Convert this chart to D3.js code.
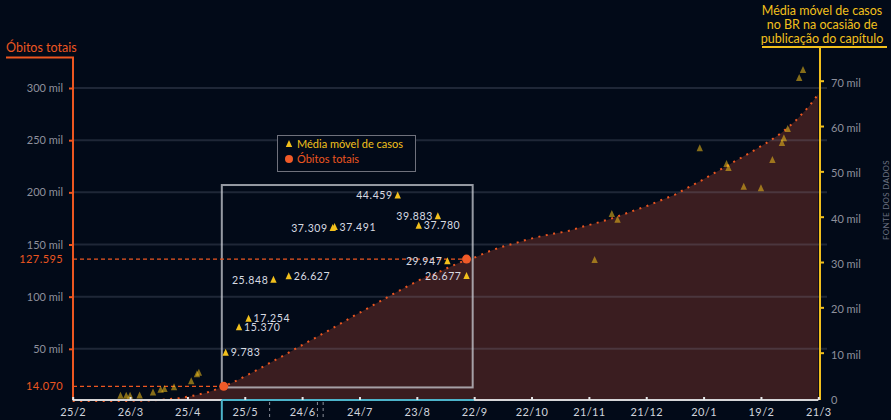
<!DOCTYPE html>
<html>
<head>
<meta charset="utf-8">
<script src="https://cdn.jsdelivr.net/npm/d3@7"></script>
<style>
  body { margin: 0; background: #020a18; }
  svg { display: block; font-family: Lato, "Open Sans", sans-serif; }
</style>
</head>
<body>
<svg id="chart" width="891" height="420"></svg>
<script>
// óbitos totais acumulados no Brasil (lidos da área)
var obitosDatas = ["2020-02-25","2020-03-17","2020-03-24","2020-03-31","2020-04-07","2020-04-14","2020-04-21","2020-04-28",
  "2020-05-05","2020-05-12","2020-05-19","2020-05-26","2020-06-02","2020-06-09","2020-06-16","2020-06-23","2020-06-30",
  "2020-07-07","2020-07-14","2020-07-21","2020-07-28","2020-08-04","2020-08-11","2020-08-18","2020-08-25","2020-09-01",
  "2020-09-08","2020-09-15","2020-09-22","2020-09-29","2020-10-06","2020-10-13","2020-10-20","2020-10-27","2020-11-03",
  "2020-11-10","2020-11-17","2020-11-24","2020-12-01","2020-12-08","2020-12-15","2020-12-22","2020-12-29","2021-01-05",
  "2021-01-12","2021-01-19","2021-01-26","2021-02-02","2021-02-09","2021-02-16","2021-02-23","2021-03-02","2021-03-09",
  "2021-03-16","2021-03-21"];
var obitosValores = [0,1,46,201,667,1532,2741,5083,
  7921,12400,17971,24512,31199,38406,45241,52645,59594,
  66741,74133,81487,88539,95819,103026,109888,116580,121381,
  127464,133119,137272,142921,147494,151063,154837,157946,160496,
  162802,166699,170115,173817,178159,182799,187322,192681,197732,
  204690,211491,218878,226309,233520,240940,248529,257361,268370,
  282127,294042];

// média móvel de casos na publicação de cada capítulo
var casosDatas = ["2020-03-21","2020-03-24","2020-03-26","2020-03-31","2020-04-07","2020-04-11","2020-04-13","2020-04-18",
  "2020-04-27","2020-04-30","2020-05-01",
  "2020-05-15","2020-05-22","2020-05-27","2020-06-09","2020-06-17","2020-07-10","2020-07-11","2020-08-13","2020-08-24",
  "2020-09-03","2020-09-08","2020-09-18",
  "2020-11-24","2020-12-03","2020-12-06","2021-01-18","2021-02-01","2021-02-02","2021-02-10","2021-02-19","2021-02-25",
  "2021-03-02","2021-03-03","2021-03-05","2021-03-11","2021-03-13"];
var casosValores = [300,300,300,350,1000,1600,1750,2150,
  3450,5000,5350,
  9783,15370,17254,25848,26627,37309,37491,44459,37780,
  39883,29947,26677,
  30200,40370,39110,54860,51400,50520,46400,46040,52280,
  56030,57070,59120,70370,72140];
var rotulosEsquerda = ["25.848","37.309","44.459","39.883","29.947","26.677"];

// marcos de óbitos
var marcoDatas = ["2020-05-14","2020-09-18"];
var marcoValores = [14070, 136000];
var marcoRotulos = ["14.070","127.595"];

// período em destaque e marcas verticais
var destaqueDatas = ["2020-05-13","2020-09-22"];
var destaqueObitos = [13000, 207000];
var marcasVerticais = ["2020-06-07","2020-07-02","2020-07-05"];

var xTickDatas = ["2020-02-25","2020-03-26","2020-04-25","2020-05-25","2020-06-24","2020-07-24","2020-08-23",
  "2020-09-22","2020-10-22","2020-11-21","2020-12-21","2021-01-20","2021-02-19","2021-03-21"];
var xTickRotulos = ["25/2","26/3","25/4","25/5","24/6","24/7","23/8","22/9","22/10","21/11","21/12","20/1","19/2","21/3"];
var yTicksObitos = [50000,100000,150000,200000,250000,300000];
var yTicksCasos = [0,10000,20000,30000,40000,50000,60000,70000];

var laranja = "#ec5620", amarelo = "#f2c01c", fundo = "#020a18";
var parse = d3.timeParse("%Y-%m-%d");
var svg = d3.select("#chart");

var x = d3.scaleTime().domain([parse("2020-02-25"), parse("2021-03-21")]).range([72.7, 818.3]);
var yObitos = d3.scaleLinear().domain([0, 300000]).range([401, 88]);
var yCasos = d3.scaleLinear().domain([0, 70000]).range([398, 80.7]);

var obitos = obitosDatas.map(function(d, i) { return { data: parse(d), valor: obitosValores[i] }; });
var casos = casosDatas.map(function(d, i) {
  return { data: parse(d), valor: casosValores[i], rotulo: d3.format(",")(casosValores[i]).replace(/,/g, ".") };
});
var ini = parse(destaqueDatas[0]), fim = parse(destaqueDatas[1]);
casos.forEach(function(d) { d.destaque = d.data >= ini && d.data <= fim; });

// area
svg.append("path").datum(obitos)
  .attr("fill", "#3a1d20")
  .attr("d", d3.area().x(function(d) { return x(d.data); }).y0(yObitos(0)).y1(function(d) { return yObitos(d.valor); }));

// grade
svg.append("g").selectAll("line").data(yTicksObitos).enter().append("line")
  .attr("x1", 73).attr("x2", 827)
  .attr("y1", function(d) { return yObitos(d); }).attr("y2", function(d) { return yObitos(d); })
  .attr("stroke", "#8890a8").attr("stroke-opacity", 0.22).attr("stroke-width", 2);

// linha pontilhada
svg.append("path").datum(obitos)
  .attr("fill", "none").attr("stroke", laranja).attr("stroke-width", 2).attr("stroke-dasharray", "2,5.5")
  .attr("d", d3.line().x(function(d) { return x(d.data); }).y(function(d) { return yObitos(d.valor); }));

// caixa de destaque
svg.append("rect")
  .attr("x", x(ini)).attr("y", yObitos(destaqueObitos[1]))
  .attr("width", x(fim) - x(ini) - 1.5).attr("height", yObitos(destaqueObitos[0]) - yObitos(destaqueObitos[1]))
  .attr("fill", "none").attr("stroke", "#d0d2da").attr("stroke-opacity", 0.72).attr("stroke-width", 2);

// marcos
var marcos = marcoDatas.map(function(d, i) { return { data: parse(d), valor: marcoValores[i], rotulo: marcoRotulos[i] }; });
svg.append("g").selectAll("line").data(marcos).enter().append("line")
  .attr("x1", 73).attr("x2", function(d) { return x(d.data); })
  .attr("y1", function(d) { return yObitos(d.valor); }).attr("y2", function(d) { return yObitos(d.valor); })
  .attr("stroke", laranja).attr("stroke-width", 1.2).attr("stroke-dasharray", "4,3");
svg.append("g").selectAll("text").data(marcos).enter().append("text")
  .attr("x", 63).attr("y", function(d) { return yObitos(d.valor); }).attr("dy", "0.35em")
  .attr("text-anchor", "end").attr("fill", laranja).attr("font-size", 11).attr("letter-spacing", 0.4)
  .text(function(d) { return d.rotulo; });

// triangulos (desenhados um pouco acima do valor, como no original)
var tri = "M0,-4L3.2,3L-3.2,3Z";
svg.append("g").selectAll("path").data(casos).enter().append("path")
  .attr("d", tri)
  .attr("transform", function(d) { return "translate(" + x(d.data) + "," + (yCasos(d.valor) - 1) + ")"; })
  .attr("fill", amarelo).attr("fill-opacity", function(d) { return d.destaque ? 1 : 0.55; });
svg.append("g").selectAll("text").data(casos.filter(function(d) { return d.destaque; })).enter().append("text")
  .attr("x", function(d) { return x(d.data) + (rotulosEsquerda.indexOf(d.rotulo) >= 0 ? -5 : 5); })
  .attr("y", function(d) { return yCasos(d.valor) - 1; }).attr("dy", "0.35em")
  .attr("text-anchor", function(d) { return rotulosEsquerda.indexOf(d.rotulo) >= 0 ? "end" : "start"; })
  .attr("fill", "#d8dbe2").attr("font-size", 10.5).attr("letter-spacing", 0.6)
  .text(function(d) { return d.rotulo; });

svg.append("g").selectAll("circle").data(marcos).enter().append("circle")
  .attr("cx", function(d) { return x(d.data); }).attr("cy", function(d) { return yObitos(d.valor); })
  .attr("r", 4.5).attr("fill", "#f05a28");

// eixo esquerdo
var eixoE = svg.append("g").attr("transform", "translate(73,0)")
  .call(d3.axisLeft(yObitos).tickValues(yTicksObitos).tickSize(4).tickPadding(6)
    .tickFormat(function(d) { return d / 1000 + " mil"; }));
eixoE.select(".domain").remove();
eixoE.selectAll(".tick line").attr("stroke", laranja).attr("stroke-width", 2);
eixoE.selectAll(".tick text").attr("fill", "#8e909c").attr("font-size", 11).attr("font-family", "Lato, sans-serif");
svg.append("path").attr("d", "M6,57.5H73V400").attr("fill", "none").attr("stroke", laranja).attr("stroke-width", 2);
svg.append("text").attr("x", 6).attr("y", 52).attr("fill", laranja).attr("font-size", 12.5).text("Óbitos totais");

// eixo direito
var eixoD = svg.append("g").attr("transform", "translate(820,0)")
  .call(d3.axisRight(yCasos).tickValues(yTicksCasos).tickSize(4).tickPadding(7)
    .tickFormat(function(d) { return d === 0 ? "0" : d / 1000 + " mil"; }));
eixoD.select(".domain").remove();
eixoD.selectAll(".tick line").attr("stroke", amarelo).attr("stroke-width", 2)
  .filter(function(d) { return d === 0; }).remove();
eixoD.selectAll(".tick text").attr("fill", "#8e909c").attr("font-size", 11).attr("dy", "0.5em")
  .attr("font-family", "Lato, sans-serif");
svg.append("path").attr("d", "M762,47H887M820,47V400").attr("fill", "none").attr("stroke", amarelo).attr("stroke-width", 2);
svg.append("text").attr("text-anchor", "middle").attr("fill", amarelo).attr("font-size", 12.5)
  .selectAll("tspan").data(["Média móvel de casos", "no BR na ocasião de", "publicação do capítulo"]).enter()
  .append("tspan").attr("x", 822).attr("y", function(d, i) { return 15 + i * 14; }).text(function(d) { return d; });
svg.append("text").attr("transform", "translate(889,200) rotate(-90)").attr("text-anchor", "middle")
  .attr("fill", "#6b7080").attr("font-size", 8).attr("letter-spacing", 0.3).text("FONTE DOS DADOS");

// eixo inferior
svg.append("line").attr("x1", 72.7).attr("x2", 818.3).attr("y1", 400).attr("y2", 400)
  .attr("stroke", "#d6d6d8").attr("stroke-width", 2);
svg.append("line").attr("x1", x(ini)).attr("x2", x(fim)).attr("y1", 400).attr("y2", 400)
  .attr("stroke", "#4cb4ca").attr("stroke-width", 2);
svg.append("line").attr("x1", x(ini)).attr("x2", x(ini)).attr("y1", 400).attr("y2", 420)
  .attr("stroke", "#4cb4ca").attr("stroke-width", 2);
svg.append("g").selectAll("line").data(marcasVerticais).enter().append("line")
  .attr("x1", function(d) { return x(parse(d)); }).attr("x2", function(d) { return x(parse(d)); })
  .attr("y1", 402).attr("y2", 420)
  .attr("stroke", "#8a8e99").attr("stroke-width", 1).attr("stroke-dasharray", "3,3");
var eixoX = svg.append("g").attr("transform", "translate(0,400)")
  .call(d3.axisBottom(x).tickValues(xTickDatas.map(parse)).tickSizeInner(-3).tickSizeOuter(0).tickPadding(8)
    .tickFormat(function(d, i) { return xTickRotulos[i]; }));
eixoX.select(".domain").remove();
eixoX.selectAll(".tick line").attr("stroke", "#e6e6e8").attr("stroke-width", 2);
eixoX.selectAll(".tick text").attr("fill", "#d0d4dc").attr("font-size", 11).attr("letter-spacing", 0.4)
  .attr("font-family", "Lato, sans-serif");

// legenda
var leg = svg.append("g");
leg.append("rect").attr("x", 277.5).attr("y", 135.5).attr("width", 138).attr("height", 36)
  .attr("fill", fundo).attr("stroke", "#6f717c");
leg.append("path").attr("d", tri).attr("transform", "translate(289,144)").attr("fill", amarelo);
leg.append("text").attr("x", 297).attr("y", 147.5).attr("fill", amarelo).attr("font-size", 11).text("Média móvel de casos");
leg.append("circle").attr("cx", 289).attr("cy", 159).attr("r", 4).attr("fill", "#f05a28");
leg.append("text").attr("x", 297).attr("y", 163).attr("fill", laranja).attr("font-size", 11).text("Óbitos totais");
</script>
</body>
</html>
